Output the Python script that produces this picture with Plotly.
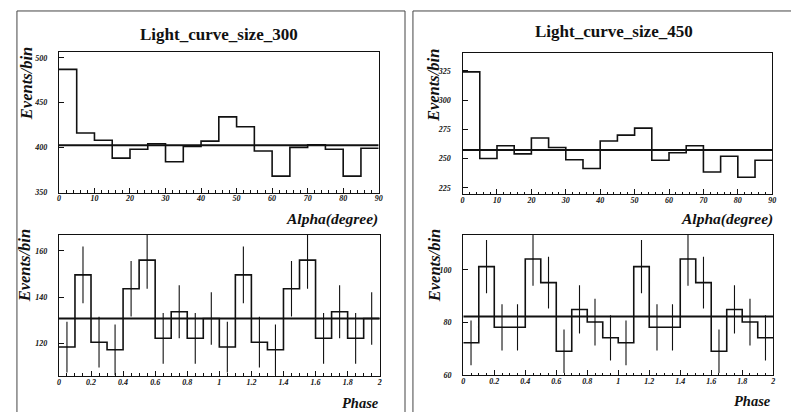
import plotly.graph_objects as go

# ---------------- data ----------------
alpha_bin_edges = [0, 5, 10, 15, 20, 25, 30, 35, 40, 45, 50, 55, 60, 65, 70, 75, 80, 85, 90]
phase_bin_edges = [0.0, 0.1, 0.2, 0.3, 0.4, 0.5, 0.6, 0.7, 0.8, 0.9, 1.0,
                   1.1, 1.2, 1.3, 1.4, 1.5, 1.6, 1.7, 1.8, 1.9, 2.0]

alpha_counts_300 = [487, 416, 408, 388, 398, 404, 384, 401, 407, 434, 423, 396, 368, 400, 403, 398, 368, 399]
alpha_fit_300 = 402.5
alpha_counts_450 = [324, 250, 261, 254, 267.5, 259.5, 249, 241.5, 265, 270, 276, 248.5, 255, 261, 238.5, 252, 234, 248.5]
alpha_fit_450 = 257.3

phase_counts_300 = [118.3, 149.6, 120.4, 117.1, 143.6, 156.0, 122.1, 133.6, 122.1, 130.7,
                    118.3, 149.6, 120.4, 117.1, 143.6, 156.0, 122.1, 133.6, 122.1, 130.7]
phase_errors_300 = [11.0, 12.3, 11.0, 11.0, 12.0, 12.4, 11.0, 11.5, 11.0, 11.4,
                    11.0, 12.3, 11.0, 11.0, 12.0, 12.4, 11.0, 11.5, 11.0, 11.4]
phase_fit_300 = 130.7

phase_counts_450 = [72.2, 101.2, 78.1, 78.1, 104.1, 95.1, 69.0, 84.9, 80.1, 74.1,
                    72.2, 101.2, 78.1, 78.1, 104.1, 95.1, 69.0, 84.9, 80.1, 74.1]
phase_errors_450 = [8.5, 10.1, 8.8, 8.8, 10.2, 9.8, 8.3, 9.2, 8.9, 8.6,
                    8.5, 10.1, 8.8, 8.8, 10.2, 9.8, 8.3, 9.2, 8.9, 8.6]
phase_fit_450 = 82.2

titles = ["Light_curve_size_300", "Light_curve_size_450"]
alpha_ticks = [0, 10, 20, 30, 40, 50, 60, 70, 80, 90]
phase_ticks = [0, 0.2, 0.4, 0.6, 0.8, 1, 1.2, 1.4, 1.6, 1.8, 2]
phase_tick_text = ["0", "0.2", "0.4", "0.6", "0.8", "1", "1.2", "1.4", "1.6", "1.8", "2"]
yticks_a300 = [350, 400, 450, 500]
yticks_a450 = [225, 250, 275, 300, 325]
yticks_p300 = [120, 140, 160]
yticks_p450 = [60, 80, 100]

# ---------------- layout helpers ----------------
W, H = 799, 412
def fx(p):
    return p / W
def fy(p):
    return 1 - p / H

SERIF = "Liberation Serif"
INK = "#111111"

fig = go.Figure()

def step_hist(edges, counts, xa, ya):
    xs = list(edges)
    ys = list(counts) + [counts[-1]]
    fig.add_trace(go.Scatter(x=xs, y=ys, mode="lines", line=dict(shape="hv", color=INK, width=1.6),
                             xaxis=xa, yaxis=ya, hoverinfo="skip", showlegend=False))

def fit_line(edges, val, xa, ya):
    fig.add_trace(go.Scatter(x=[edges[0], edges[-1]], y=[val, val], mode="lines",
                             line=dict(color=INK, width=2), xaxis=xa, yaxis=ya,
                             hoverinfo="skip", showlegend=False))

def err_bars(edges, counts, errs, xa, ya):
    centers = [(edges[i] + edges[i + 1]) / 2 for i in range(len(counts))]
    fig.add_trace(go.Scatter(x=centers, y=counts, mode="markers", marker=dict(size=1, color=INK),
                             error_y=dict(type="data", array=errs, visible=True, width=0,
                                          thickness=1.1, color=INK),
                             xaxis=xa, yaxis=ya, hoverinfo="skip", showlegend=False))

# top-left
step_hist(alpha_bin_edges, alpha_counts_300, "x", "y")
fit_line(alpha_bin_edges, alpha_fit_300, "x", "y")
# top-right
step_hist(alpha_bin_edges, alpha_counts_450, "x2", "y2")
fit_line(alpha_bin_edges, alpha_fit_450, "x2", "y2")
# bottom-left
step_hist(phase_bin_edges, phase_counts_300, "x3", "y3")
err_bars(phase_bin_edges, phase_counts_300, phase_errors_300, "x3", "y3")
fit_line(phase_bin_edges, phase_fit_300, "x3", "y3")
# bottom-right
step_hist(phase_bin_edges, phase_counts_450, "x4", "y4")
err_bars(phase_bin_edges, phase_counts_450, phase_errors_450, "x4", "y4")
fit_line(phase_bin_edges, phase_fit_450, "x4", "y4")

tickfont = dict(family=SERIF, size=8, color=INK, weight="bold", style="italic")

def xaxis_cfg(dom, rng, tickvals, ticktext, minor_dtick, anchor):
    return dict(domain=[fx(dom[0]), fx(dom[1])], range=rng, anchor=anchor,
                tickmode="array", tickvals=tickvals, ticktext=ticktext,
                ticks="inside", ticklen=5, tickwidth=1, tickcolor=INK,
                minor=dict(dtick=minor_dtick, ticks="inside", ticklen=2.5, tickcolor=INK, tickwidth=1),
                showline=True, linecolor=INK, linewidth=1.3, mirror=True,
                showgrid=False, zeroline=False, tickfont=tickfont, ticklabelstandoff=-2,
                fixedrange=True)

def yaxis_cfg(dom, rng, tickvals, anchor):
    return dict(domain=[fy(dom[1]), fy(dom[0])], range=rng, anchor=anchor,
                tickmode="array", tickvals=tickvals, ticktext=[str(v) for v in tickvals],
                ticks="inside", ticklen=5, tickwidth=1, tickcolor=INK,
                showline=True, linecolor=INK, linewidth=1.3, mirror=True,
                showgrid=False, zeroline=False, tickfont=tickfont, ticklabelstandoff=9,
                fixedrange=True)

alpha_text = [str(v) for v in alpha_ticks]
fig.update_layout(
    xaxis=xaxis_cfg((49.3, 371.5), [0, 90], alpha_ticks, alpha_text, 2, "y"),
    yaxis=yaxis_cfg((44.3, 186.5), [349.5, 506.5], yticks_a300, "x"),
    xaxis2=xaxis_cfg((456, 768), [0, 90], alpha_ticks, alpha_text, 2, "y2"),
    yaxis2=yaxis_cfg((45, 188), [219.6, 340.5], yticks_a450, "x2"),
    xaxis3=xaxis_cfg((49.3, 372.5), [0, 2], phase_ticks, phase_tick_text, 0.05, "y3"),
    yaxis3=yaxis_cfg((229, 371.7), [105.7, 167], yticks_p300, "x3"),
    xaxis4=xaxis_cfg((456.7, 769), [0, 2], phase_ticks, phase_tick_text, 0.05, "y4"),
    yaxis4=yaxis_cfg((229, 371), [59.8, 113.3], yticks_p450, "x4"),
)

ann = []
def text(x, y, s, size, italic=True, bold=True, xanchor="center", angle=0):
    ann.append(dict(x=fx(x), y=fy(y), xref="paper", yref="paper", text=s, showarrow=False,
                    xanchor=xanchor, yanchor="middle", textangle=angle,
                    font=dict(family=SERIF, size=size, color=INK,
                              weight="bold" if bold else "normal",
                              style="italic" if italic else "normal")))

text(211, 27, titles[0], 17, italic=False)
text(609, 24, titles[1], 17, italic=False)
text(16, 76, "Events/bin", 16.5, angle=-90)
text(426, 78, "Events/bin", 16.5, angle=-90)
text(15, 260, "Events/bin", 16.5, angle=-90)
text(428, 260, "Events/bin", 16.5, angle=-90)
text(373, 213, "Alpha(degree)", 15.5, xanchor="right")
text(771, 213, "Alpha(degree)", 15.5, xanchor="right")
text(374, 399, "Phase", 14.5, xanchor="right")
text(769, 397, "Phase", 14.5, xanchor="right")

shapes = [
    dict(type="rect", xref="paper", yref="paper", x0=fx(7), x1=fx(398), y0=fy(409), y1=fy(3),
         line=dict(color="#444444", width=1)),
    dict(type="rect", xref="paper", yref="paper", x0=fx(406), x1=fx(797), y0=fy(409), y1=fy(3),
         line=dict(color="#444444", width=1)),
]

fig.update_layout(width=W, height=H, margin=dict(l=0, r=0, t=0, b=0, pad=0),
                  paper_bgcolor="white", plot_bgcolor="white",
                  annotations=ann, shapes=shapes, showlegend=False)

fig.write_html("out.html")
